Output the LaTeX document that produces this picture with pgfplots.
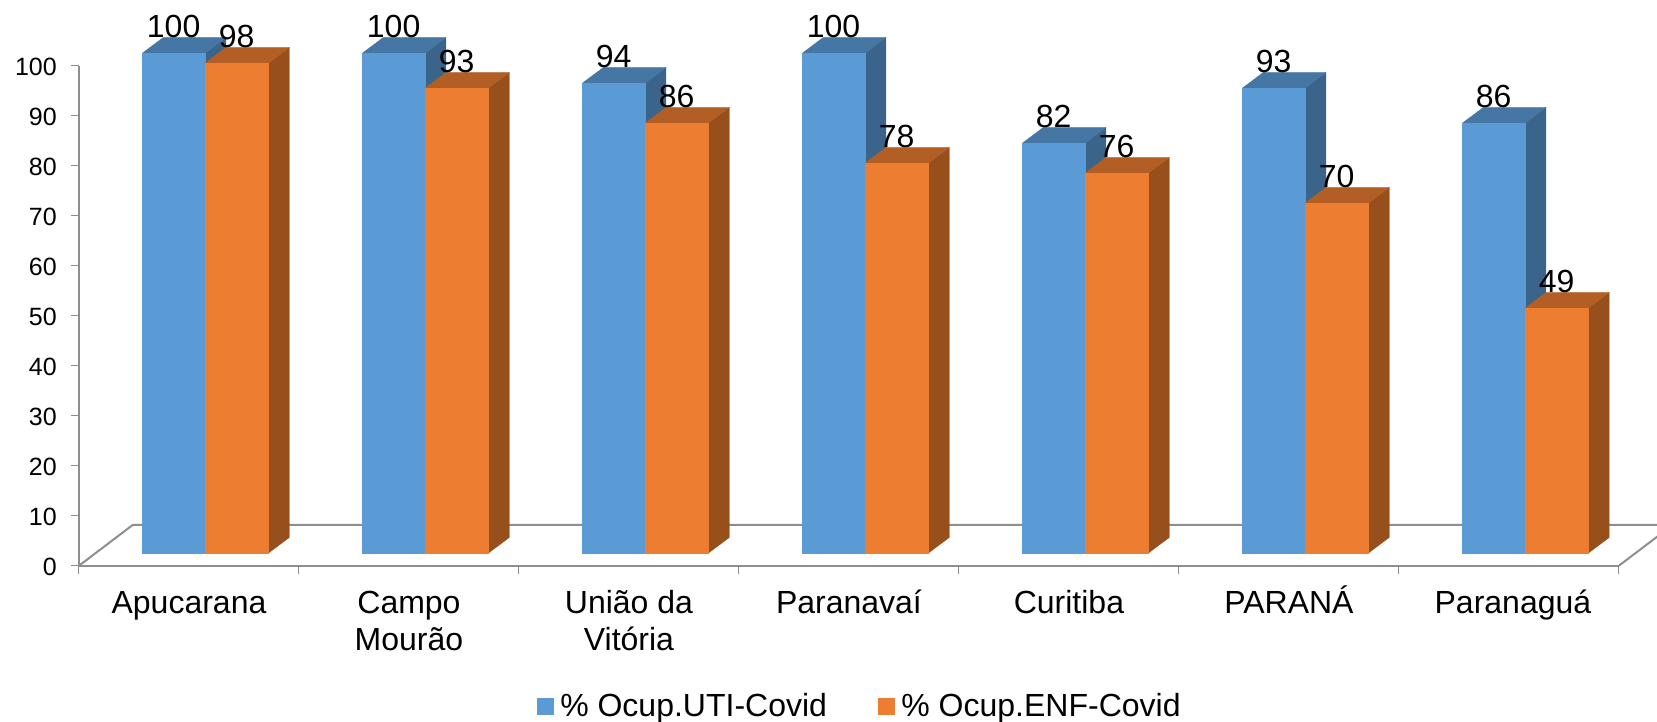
\documentclass[border=0pt]{standalone}
\usepackage{fontspec}
\setmainfont{Liberation Sans}
\usepackage{pgfplots}
\usepackage{pgfplotstable}
\pgfplotsset{compat=1.18}
\definecolor{bf}{HTML}{5B9BD5}\definecolor{bt}{HTML}{4676A3}\definecolor{bs}{HTML}{3A6489}
\definecolor{of}{HTML}{ED7D31}\definecolor{ot}{HTML}{B35E25}\definecolor{os}{HTML}{974F1C}
\definecolor{axg}{HTML}{8E8E8E}
\pgfplotstableread{
i uti enf
0 100 98
1 100 93
2 94 86
3 100 78
4 82 76
5 93 70
6 86 49
}\occ
% one 3D bar: left x, right x, value, front, top, side colours
\newcommand{\onebar}[6]{%
  \pgfmathsetmacro\xa{#1}\pgfmathsetmacro\xb{#2}%
  \pgfmathsetmacro\xc{#1+0.0955}\pgfmathsetmacro\xd{#2+0.0955}%
  \pgfmathsetmacro\yt{#3+2.5}\pgfmathsetmacro\yb{#3+2.5+3.14}%
  \edef\tmp{\noexpand\addplot[fill=#6,draw=#6,line width=0.3pt,forget plot] coordinates {(\xb,2.5)(\xd,5.64)(\xd,\yb)(\xb,\yt)} -- cycle;}\tmp
  \edef\tmp{\noexpand\addplot[fill=#5,draw=#5,line width=0.3pt,forget plot] coordinates {(\xa,\yt)(\xc,\yb)(\xd,\yb)(\xb,\yt)} -- cycle;}\tmp
  \edef\tmp{\noexpand\addplot[fill=#4,draw=#4,line width=0.3pt,forget plot] coordinates {(\xa,2.5)(\xb,2.5)(\xb,\yt)(\xa,\yt)} -- cycle;}\tmp
}
\newcommand{\barpair}[3]{%
  \pgfmathsetmacro\pa{#1-0.2123}\pgfmathsetmacro\pb{#1+0.0727}\pgfmathsetmacro\pc{#1+0.3605}%
  \edef\pairtmp{\noexpand\onebar{\pa}{\pb}{#2}{bf}{bt}{bs}\noexpand\onebar{\pb}{\pc}{#3}{of}{ot}{os}}\pairtmp
}
\newcommand{\st}{\rule{0pt}{30pt}}
\begin{document}
\begin{tikzpicture}[x=1pt,y=1pt]
\path[clip,use as bounding box] (-79pt,-156.3pt) rectangle (1578pt,565.7pt);
\begin{axis}[
  at={(0pt,0pt)},anchor=south west,
  scale only axis,width=1540pt,height=500pt,
  xmin=-0.5,xmax=6.5,ymin=0,ymax=100,clip=false,
  axis x line=bottom,axis y line=left,
  axis line style={-,draw=axg,line width=2pt},
  tick align=outside,
  major tick length=8pt,minor tick length=8pt,
  xtick={0,1,2,3,4,5,6},
  minor xtick={-0.5,0.5,1.5,2.5,3.5,4.5,5.5,6.5},
  major x tick style={draw=none},
  minor x tick style={draw=axg,line width=1pt},
  ytick={0,10,...,100},
  y tick style={draw=axg,line width=1pt},
  xticklabels={\st Apucarana,\st Campo\\Mourão,\st União da\\Vitória,\st Paranavaí,\st Curitiba,\st PARANÁ,\st\hspace{8pt}Paranaguá},
  xticklabel style={align=center,anchor=north,inner sep=0pt,font=\fontsize{32}{36.7}\selectfont,yshift=-10pt},
  yticklabel style={anchor=east,inner sep=0pt,font=\fontsize{25}{29}\selectfont,xshift=-14pt,yshift=-1pt},
  /pgf/number format/assume math mode=true,
  legend columns=2,
  legend style={draw=none,fill=none,at={(0.507,-0.28)},anchor=center,font=\fontsize{32}{36}\selectfont,
    /tikz/every even column/.append style={column sep=49pt}},
]
% floor
\addplot[draw=axg,line width=2pt,forget plot] coordinates {(-0.5,0)(-0.256,8.14)(6.744,8.14)(6.5,0)};
% bars
\barpair{0}{100}{98}
\barpair{1}{100}{93}
\barpair{2}{94}{86}
\barpair{3}{100}{78}
\barpair{4}{82}{76}
\barpair{5}{93}{70}
\barpair{6}{86}{49}
% value labels
\addplot[draw=none,forget plot,nodes near coords,point meta=explicit symbolic,
  every node near coord/.style={anchor=base,inner sep=0pt,font=\fontsize{32}{36}\selectfont,text=black}]
  table[x expr=\thisrow{i}-0.0698,y expr=\thisrow{uti}+5.6,meta=uti]{\occ};
\addplot[draw=none,forget plot,nodes near coords,point meta=explicit symbolic,
  every node near coord/.style={anchor=base,inner sep=0pt,font=\fontsize{32}{36}\selectfont,text=black}]
  table[x expr=\thisrow{i}+0.2166,y expr=\thisrow{enf}+5.6,meta=enf]{\occ};
\addlegendimage{legend image code/.code={\fill[bf] (0pt,-8pt) rectangle (16pt,8pt);}}
\addlegendentry{\hspace{5pt}\% Ocup.UTI-Covid}
\addlegendimage{legend image code/.code={\fill[of] (0pt,-8pt) rectangle (16pt,8pt);}}
\addlegendentry{\hspace{5pt}\% Ocup.ENF-Covid}
\end{axis}
\end{tikzpicture}
\end{document}
